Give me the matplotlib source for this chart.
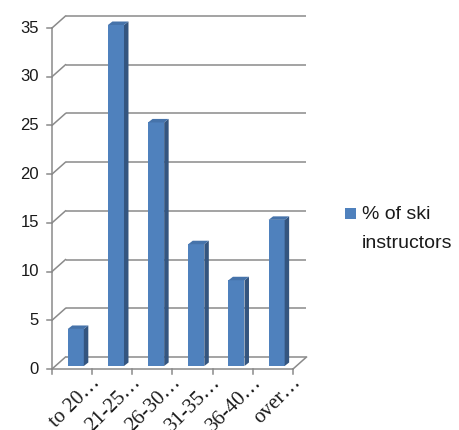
import matplotlib
matplotlib.use("Agg")
import matplotlib.pyplot as plt
from matplotlib.patches import Polygon, Rectangle
import numpy as np

categories = ["to 20…", "21-25…", "26-30…", "31-35…", "36-40…", "over…"]
values = [3.8, 35, 25, 12.5, 8.8, 15]
series_name = ["% of ski", "instructors"]
yticks = [0, 5, 10, 15, 20, 25, 30, 35]

W, H, DPI = 459, 430, 100
fig = plt.figure(figsize=(W / DPI, H / DPI), dpi=DPI)
left_px, right_px, bottom_px, top_px = 52, 293, 369, 28
ax = fig.add_axes([left_px / W, (H - bottom_px) / H,
                   (right_px - left_px) / W, (bottom_px - top_px) / H])
n = len(categories)
ax.set_xlim(0, n)
ax.set_ylim(0, 35)
ax.axis("off")

ax_wpx = right_px - left_px
ax_hpx = bottom_px - top_px
def px(dx, dy):
    return dx * n / ax_wpx, dy * 35 / ax_hpx

grid_c = "#8a8a8a"
lw = 1.1
bdx, bdy = px(13.5, 12)
# back wall gridlines + slanted left connectors
for t in yticks:
    ax.plot([bdx, n + bdx], [t + bdy, t + bdy], color=grid_c, lw=lw, clip_on=False,
            solid_capstyle="butt")
    ax.plot([0, bdx], [t, t + bdy], color=grid_c, lw=lw, clip_on=False)
    tdx, _ = px(-5, 0)
    ax.plot([tdx, 0], [t, t], color=grid_c, lw=lw, clip_on=False)
    ax.text(px(-13, 0)[0], t, str(t), ha="right", va="center", fontsize=12,
            family="Liberation Sans", color="#1a1a1a")
# front y axis
ax.plot([0, 0], [0, 35], color=grid_c, lw=lw, clip_on=False)
# floor front line and right slant
ax.plot([0, n], [0, 0], color=grid_c, lw=lw, clip_on=False)
ax.plot([n, n + bdx], [0, bdy], color=grid_c, lw=lw, clip_on=False)
# x ticks
tick_dy = px(0, 5)[1]
for i in range(n + 1):
    ax.plot([i, i], [0, -tick_dy], color=grid_c, lw=lw, clip_on=False)

# bars
x = np.arange(n) + 0.5
w = 0.4
ox, oy = px(3.7, 3)
dx, dy = px(4.5, 3.5)
front_c, side_c, top_c = "#4F81BD", "#34557f", "#4673aa"
ax.bar(x + ox, values, width=w, bottom=oy, color=front_c, edgecolor="none",
       zorder=3, clip_on=False)
for xi, v in zip(x, values):
    xr = xi + ox + w / 2
    xl = xi + ox - w / 2
    side = Polygon([(xr, oy), (xr + dx, oy + dy), (xr + dx, v + oy + dy), (xr, v + oy)],
                   closed=True, facecolor=side_c, edgecolor="none", zorder=3, clip_on=False)
    top = Polygon([(xl, v + oy), (xl + dx, v + oy + dy), (xr + dx, v + oy + dy), (xr, v + oy)],
                  closed=True, facecolor=top_c, edgecolor="none", zorder=3, clip_on=False)
    ax.add_patch(side)
    ax.add_patch(top)

# x labels
for xi, lab in zip(x, categories):
    ax.text(xi + 0.5 - px(1, 0)[0], -px(0, 4)[1], lab, rotation=45, ha="right", va="top",
            rotation_mode="anchor", fontsize=15, family="Liberation Serif", color="#1a1a1a")

# legend (drawn manually)
fig.patches.append(Rectangle((345 / W, 1 - 219 / H), 11 / W, 11 / H,
                             transform=fig.transFigure, facecolor=front_c, edgecolor="none"))
fig.text(362 / W, 1 - 219 / H, series_name[0], ha="left", va="baseline",
         fontsize=14, family="Liberation Sans", color="#1a1a1a")
fig.text(362 / W, 1 - 248 / H, series_name[1], ha="left", va="baseline",
         fontsize=14, family="Liberation Sans", color="#1a1a1a")

fig.savefig("out.png", dpi=DPI)
